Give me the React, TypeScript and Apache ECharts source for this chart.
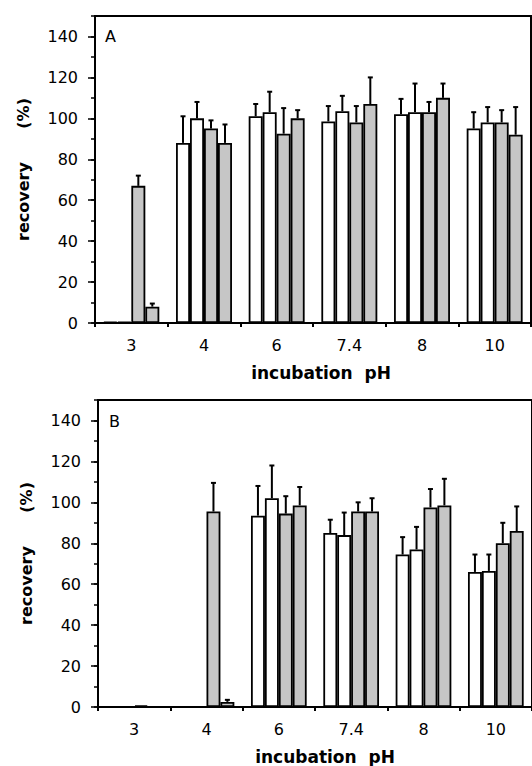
import React, { useEffect, useRef } from "react";
import * as echarts from "echarts";

const categories = ["3", "4", "6", "7.4", "8", "10"];

// Panel A values (recovery %) and upper error-bar ends
const aS1 = [0.5, 88, 101, 98.5, 102, 95];
const aE1 = [null, 101, 107, 106, 109.5, 103];
const aS2 = [0.5, 100, 103, 103.5, 103, 98];
const aE2 = [null, 108, 113, 111, 117, 105.5];
const aS3 = [67, 95, 92.5, 98, 103, 98];
const aE3 = [72, 99, 105, 106, 108, 104];
const aS4 = [8, 88, 100, 107, 110, 92];
const aE4 = [9.5, 97, 104, 120, 117, 105.5];

// Panel B values
const bS1 = [0, 0, 93.5, 85, 74.5, 66];
const bE1 = [null, null, 108, 91.5, 83, 74.5];
const bS2 = [0, 0, 102, 84, 77, 66.5];
const bE2 = [null, null, 118, 95, 88, 74.5];
const bS3 = [0.8, 95.5, 94.5, 95.5, 97.5, 80];
const bE3 = [null, 109.5, 103, 100, 106.5, 90];
const bS4 = [0, 2.5, 98.5, 95.5, 98.5, 86];
const bE4 = [null, 3.5, 107.5, 102, 111.5, 98];

const yTicks = { min: 0, max: 150, interval: 20 };

const FONT = "DejaVu Sans";
const CAT_GAP = 0.23;

function errData(vals: number[][], errs: (number | null)[][]) {
  const out: number[][] = [];
  vals.forEach((sv, k) => {
    sv.forEach((v, c) => {
      const e = errs[k][c];
      if (e != null) out.push([c, k, v, e]);
    });
  });
  return out;
}

export default function App() {
  const ref = useRef<HTMLDivElement>(null);
  useEffect(() => {
    if (!ref.current) return;
    const chart = echarts.init(ref.current, null, { renderer: "svg" });
    const panels = [
      { vals: [aS1, aS2, aS3, aS4], errs: [aE1, aE2, aE3, aE4], pad: 16 },
      { vals: [bS1, bS2, bS3, bS4], errs: [bE1, bE2, bE3, bE4], pad: 20 },
    ];
    const colors = ["#ffffff", "#ffffff", "#c6c6c6", "#c6c6c6"];
    const series: any[] = [];
    panels.forEach((p, i) => {
      p.vals.forEach((sv, k) => {
        series.push({
          type: "bar",
          xAxisIndex: i,
          yAxisIndex: i * 2,
          data: sv,
          barGap: "0%",
          barCategoryGap: CAT_GAP * 100 + "%",
          itemStyle: { color: colors[k], borderColor: "#000", borderWidth: 1.8 },
          z: 2,
        });
      });
      series.push({
        type: "custom",
        xAxisIndex: i,
        yAxisIndex: i * 2,
        z: 5,
        data: errData(p.vals, p.errs),
        encode: { x: 0, y: 3 },
        renderItem: (params: any, api: any) => {
          const c = api.value(0);
          const k = api.value(1);
          const v = api.value(2);
          const e = api.value(3);
          const base = api.coord([c, v]);
          const top = api.coord([c, e]);
          const cw = api.size([1, 0])[0];
          const bw = (cw * (1 - CAT_GAP)) / 4;
          const x = base[0] + (k - 1.5) * bw;
          return {
            type: "group",
            children: [
              { type: "line", shape: { x1: x, y1: base[1], x2: x, y2: top[1] }, style: { stroke: "#000", lineWidth: 2 } },
              { type: "line", shape: { x1: x - 2.5, y1: top[1], x2: x + 2.5, y2: top[1] }, style: { stroke: "#000", lineWidth: 2 } },
            ],
          };
        },
      });
    });

    const xAxes = [0, 1].map((i) => ({
      type: "category",
      gridIndex: i,
      data: categories,
      axisLine: { lineStyle: { color: "#000", width: 2 } },
      axisTick: { show: true, length: 4, lineStyle: { color: "#000", width: 2 } },
      axisLabel: { color: "#000", fontSize: 16, fontFamily: FONT, margin: 14 },
      name: "incubation  pH",
      nameLocation: "middle",
      nameGap: 41,
      nameTextStyle: {
        fontWeight: "bold",
        fontSize: 17,
        fontFamily: FONT,
        color: "#000",
        padding: [0, 0, 0, panels[i].pad],
      },
    }));

    const yAxes: any[] = [];
    [0, 1].forEach((i) => {
      yAxes.push({
        type: "value",
        gridIndex: i,
        position: "left",
        min: yTicks.min,
        max: yTicks.max,
        interval: yTicks.interval,
        axisLine: { show: true, lineStyle: { color: "#000", width: 2 } },
        axisTick: { show: true, length: 7, lineStyle: { color: "#000", width: 1.5 } },
        axisLabel: { showMaxLabel: false, color: "#000", fontSize: 16, fontFamily: FONT, margin: 17 },
        splitLine: { show: false },
        name: "recovery      (%)",
        nameLocation: "middle",
        nameGap: 64,
        nameRotate: 90,
        nameTextStyle: { color: "#000", fontFamily: FONT, fontWeight: "bold", fontSize: 16 },
      });
      yAxes.push({
        type: "value",
        gridIndex: i,
        position: "left",
        min: 0,
        max: 150,
        interval: 10,
        axisLine: { show: false },
        axisTick: { show: true, length: 4, lineStyle: { color: "#000", width: 1.5 } },
        axisLabel: { show: false },
        splitLine: { show: false },
      });
    });

    chart.setOption({
      animation: false,
      backgroundColor: "#fff",
      grid: [
        { left: 95, top: 16, width: 436, height: 307, show: true, borderColor: "#000", borderWidth: 2 },
        { left: 98, top: 400, width: 437, height: 308, show: true, borderColor: "#000", borderWidth: 2 },
      ],
      xAxis: xAxes,
      yAxis: yAxes,
      series,
      graphic: [
        { type: "text", left: 105, top: 28, style: { text: "A", fontSize: 16, fontFamily: FONT, fill: "#000" } },
        { type: "text", left: 109, top: 413, style: { text: "B", fontSize: 16, fontFamily: FONT, fill: "#000" } },
      ],
    });
    return () => chart.dispose();
  }, []);
  return (
    <div
      ref={ref}
      style={{ position: "fixed", left: 0, top: 0, width: 532, height: 766 }}
    />
  );
}
